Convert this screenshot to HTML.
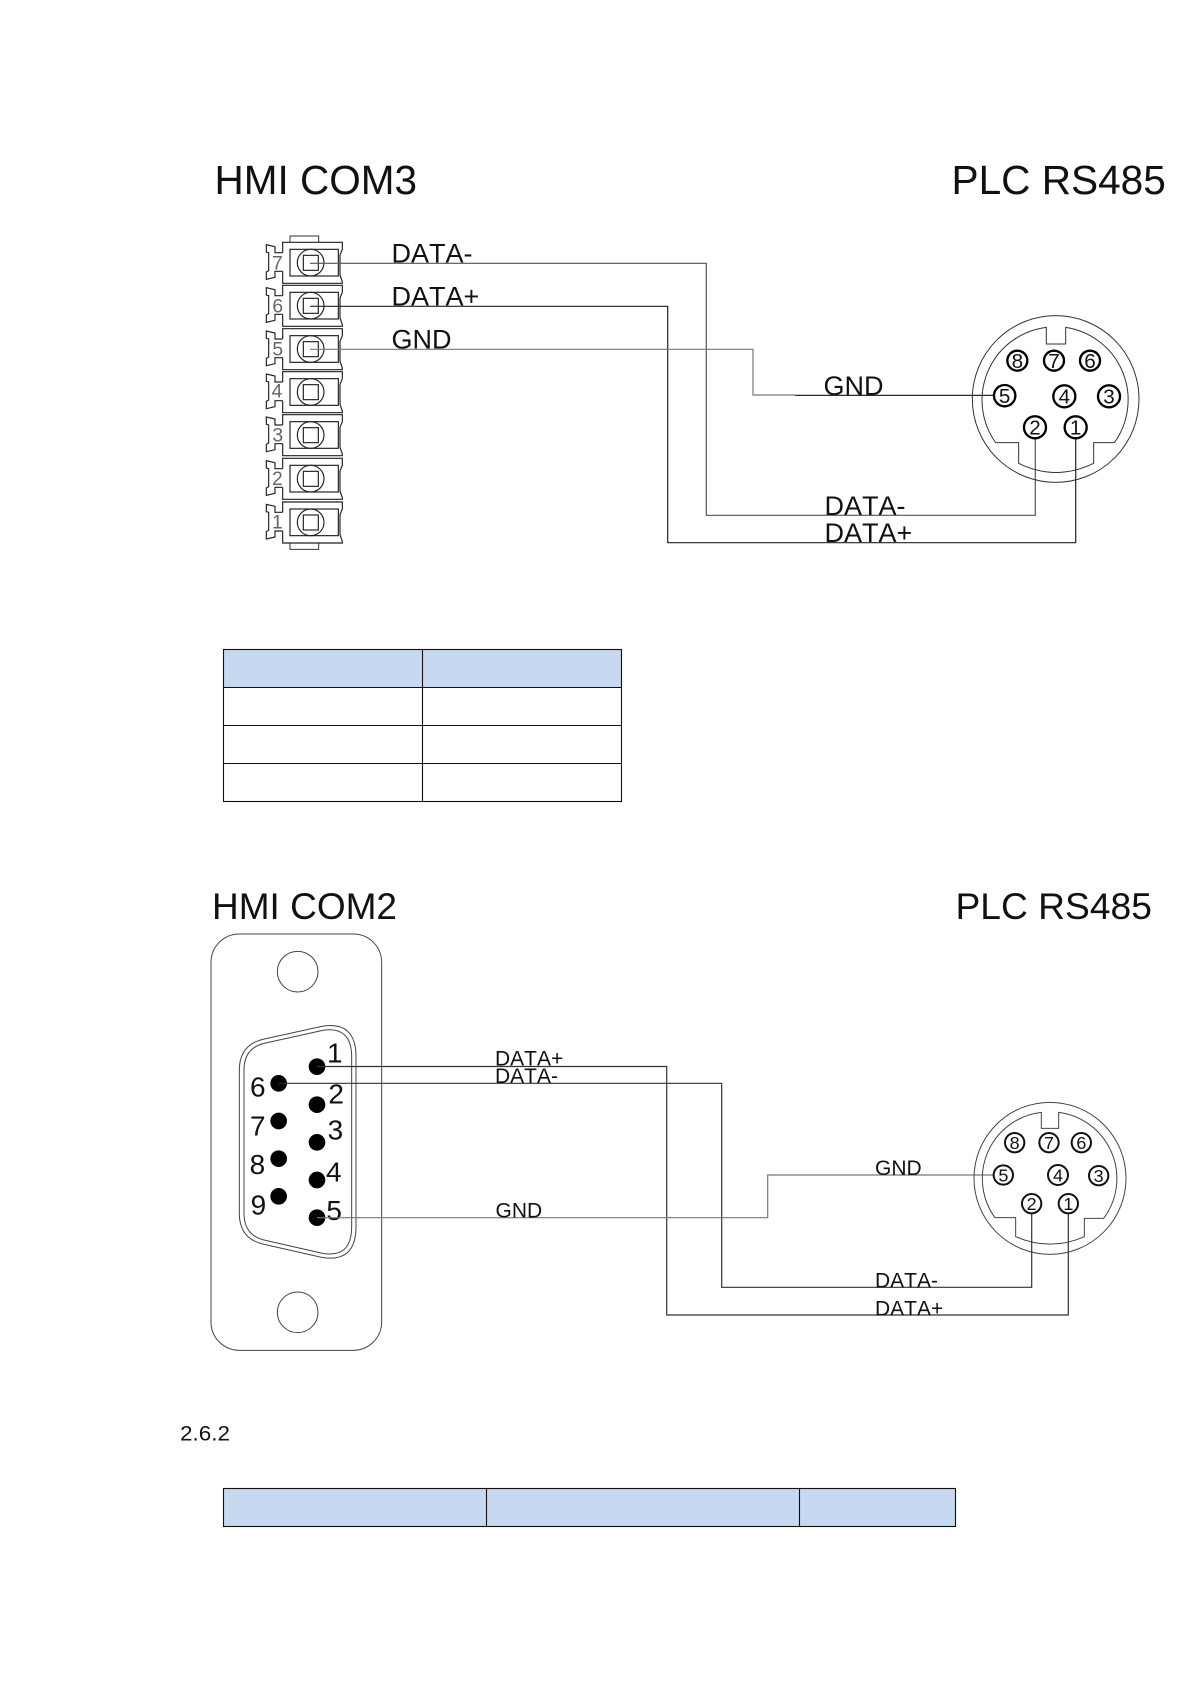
<!DOCTYPE html>
<html>
<head>
<meta charset="utf-8">
<style>
html,body{margin:0;padding:0;background:#fff}
svg{display:block}
text{font-family:"Liberation Sans",sans-serif;fill:#111;font-kerning:none}
</style>
</head>
<body>
<svg width="1191" height="1684" viewBox="0 0 1191 1684" xmlns="http://www.w3.org/2000/svg">
<defs>
<g id="unit" fill="none" stroke="#222" stroke-width="3.5">
<path d="M278 31V0H457V21L450 38V98L457 118V123H278V87"/>
<path d="M278 31H255V13L229 7V29L236 31V85L229 89V111L255 105V87H278"/>
<rect x="300" y="21" width="145" height="80"/>
<circle cx="362" cy="61" r="40"/>
<rect x="340" y="39" width="45" height="45"/>
</g>
</defs>

<text x="214.5" y="194" font-size="40.5">HMI COM3</text>
<text x="951.5" y="194" font-size="40.6">PLC RS485</text>

<g transform="translate(190,140) scale(.33333)">
<g fill="none" stroke="#333" stroke-width="3">
<path d="M300 307V288H386V307"/>
<path d="M300 1210V1228H386V1210"/>
</g>
<use href="#unit" y="307"/><use href="#unit" y="436"/><use href="#unit" y="566"/><use href="#unit" y="695"/><use href="#unit" y="824"/><use href="#unit" y="955"/><use href="#unit" y="1086"/>
<g font-size="58">
<text x="246" y="388" style="fill:#666">7</text>
<text x="247" y="517" style="fill:#666">6</text>
<text x="247" y="646" style="fill:#666">5</text>
<text x="245" y="773" style="fill:#666">4</text>
<text x="247" y="904" style="fill:#666">3</text>
<text x="246" y="1035" style="fill:#666">2</text>
<text x="246" y="1166" style="fill:#666">1</text>
</g>
</g>

<!-- top wires -->
<g fill="none" stroke-width="1.2">
<path d="M310 263.3H706.3V515.3H1035.3V437" stroke="#555"/>
<path d="M310 306.3H667.7V542.7H1075.7V438" stroke="#222"/>
<path d="M310 349.3H753V395H795" stroke="#777"/>
<path d="M795 395.3H994" stroke="#111"/>
</g>
<text x="391.5" y="262.7" font-size="27">DATA-</text>
<text x="391.5" y="305.7" font-size="27">DATA+</text>
<text x="391.5" y="348.3" font-size="27">GND</text>
<text x="823.5" y="395" font-size="27">GND</text>
<text x="824.5" y="515" font-size="27">DATA-</text>
<text x="824.5" y="542" font-size="27">DATA+</text>

<!-- top mini din -->
<g transform="translate(680,140) scale(.33333)">
<g fill="none" stroke="#333" stroke-width="3">
<circle cx="1127" cy="777" r="250"/>
<path d="M1099 562V612H1157V562A220 220 0 0 1 1303 908H1241V970Q1127 1025 1016 970V908H947A220 220 0 0 1 1099 562Z"/>
</g>
<g fill="#fff" stroke="#000" stroke-width="7">
<circle cx="1012" cy="662" r="30"/><circle cx="1122" cy="662" r="30"/><circle cx="1230" cy="662" r="30"/>
<circle cx="974" cy="767" r="32"/><circle cx="1153" cy="769" r="33"/><circle cx="1287" cy="769" r="33"/>
<circle cx="1065" cy="862" r="33"/><circle cx="1187" cy="862" r="33"/>
</g>
<g font-size="62" text-anchor="middle">
<text x="1012" y="684">8</text><text x="1122" y="684">7</text><text x="1230" y="684">6</text>
<text x="974" y="789">5</text><text x="1153" y="791">4</text><text x="1287" y="791">3</text>
<text x="1065" y="884">2</text><text x="1187" y="884">1</text>
</g>
</g>

<!-- table 1 -->
<rect x="223.5" y="649.5" width="398" height="38" fill="#c6d9f0"/>
<g fill="none" stroke="#111" stroke-width="1.1">
<rect x="223.5" y="649.5" width="398" height="152"/>
<path d="M422.5 649.5V801.5M223.5 687.5H621.5M223.5 725.5H621.5M223.5 763.5H621.5"/>
</g>

<text x="212" y="919" font-size="37">HMI COM2</text>
<text x="955.5" y="919" font-size="37.2">PLC RS485</text>

<!-- dsub -->
<g transform="translate(190,870) scale(.33333)">
<g fill="none" stroke="#444" stroke-width="3">
<rect x="63" y="192" width="512" height="1249" rx="85" ry="85"/>
<circle cx="323" cy="305" r="61"/>
<circle cx="323" cy="1327" r="61"/>
<path d="M218 508L395 469Q498 452 498 560V1070Q498 1180 395 1162L218 1122Q148 1105 148 1030V600Q148 525 218 508Z"/>
<path d="M222 520L398 481Q485 468 485 560V1070Q485 1165 398 1150L222 1110Q162 1095 162 1030V600Q162 535 222 520Z"/>
</g>
<g fill="#000">
<circle cx="381" cy="590" r="25"/><circle cx="381" cy="704" r="25"/><circle cx="381" cy="817" r="25"/><circle cx="381" cy="930" r="25"/><circle cx="381" cy="1043" r="25"/>
<circle cx="266" cy="640" r="25"/><circle cx="266" cy="753" r="25"/><circle cx="266" cy="866" r="25"/><circle cx="266" cy="979" r="25"/>
</g>
<g font-size="84">
<text x="411" y="578">1</text><text x="415" y="700">2</text><text x="413" y="808">3</text><text x="408" y="935">4</text><text x="409" y="1050">5</text>
<text x="180" y="680">6</text><text x="180" y="797">7</text><text x="179" y="912">8</text><text x="182" y="1033">9</text>
</g>
</g>

<!-- bottom wires -->
<g fill="none" stroke-width="1.2">
<path d="M317 1066.5H666.7V1315H1068.3V1214" stroke="#333"/>
<path d="M279 1083.3H721.7V1287.3H1031.7V1214" stroke="#333"/>
<path d="M317 1217.7H767.7V1175H995" stroke="#777"/>
</g>
<text x="495" y="1065.7" font-size="21">DATA+</text>
<text x="495" y="1083" font-size="21">DATA-</text>
<text x="495.5" y="1217.7" font-size="21">GND</text>
<text x="875" y="1175" font-size="21">GND</text>
<text x="875" y="1287.3" font-size="21">DATA-</text>
<text x="875" y="1315.3" font-size="21">DATA+</text>

<!-- bottom mini din -->
<g transform="translate(680,870) scale(.33333)">
<g fill="none" stroke="#444" stroke-width="3">
<circle cx="1110" cy="925" r="228"/>
<path d="M1084 727V775H1136V727A200 200 0 0 1 1271 1045H1213V1100Q1110 1145 1007 1100V1043H945A200 200 0 0 1 1084 727Z"/>
</g>
<g fill="#fff" stroke="#111" stroke-width="6">
<circle cx="1004" cy="818" r="29"/><circle cx="1107" cy="818" r="29"/><circle cx="1204" cy="818" r="29"/>
<circle cx="970" cy="915" r="29"/><circle cx="1134" cy="915" r="30"/><circle cx="1256" cy="917" r="29"/>
<circle cx="1055" cy="1001" r="29"/><circle cx="1165" cy="1001" r="29"/>
</g>
<g font-size="54" text-anchor="middle">
<text x="1004" y="837">8</text><text x="1107" y="837">7</text><text x="1204" y="837">6</text>
<text x="970" y="934">5</text><text x="1134" y="934">4</text><text x="1256" y="936">3</text>
<text x="1055" y="1020">2</text><text x="1165" y="1020">1</text>
</g>
</g>

<text x="180" y="1440.7" font-size="21" textLength="50" lengthAdjust="spacingAndGlyphs">2.6.2</text>

<!-- table 2 -->
<rect x="223.5" y="1488.5" width="732" height="38" fill="#c6d9f0" stroke="#111" stroke-width="1.1"/>
<path d="M486.5 1488.5V1526.5M799.5 1488.5V1526.5" stroke="#111" stroke-width="1.1" fill="none"/>
</svg>
</body>
</html>
